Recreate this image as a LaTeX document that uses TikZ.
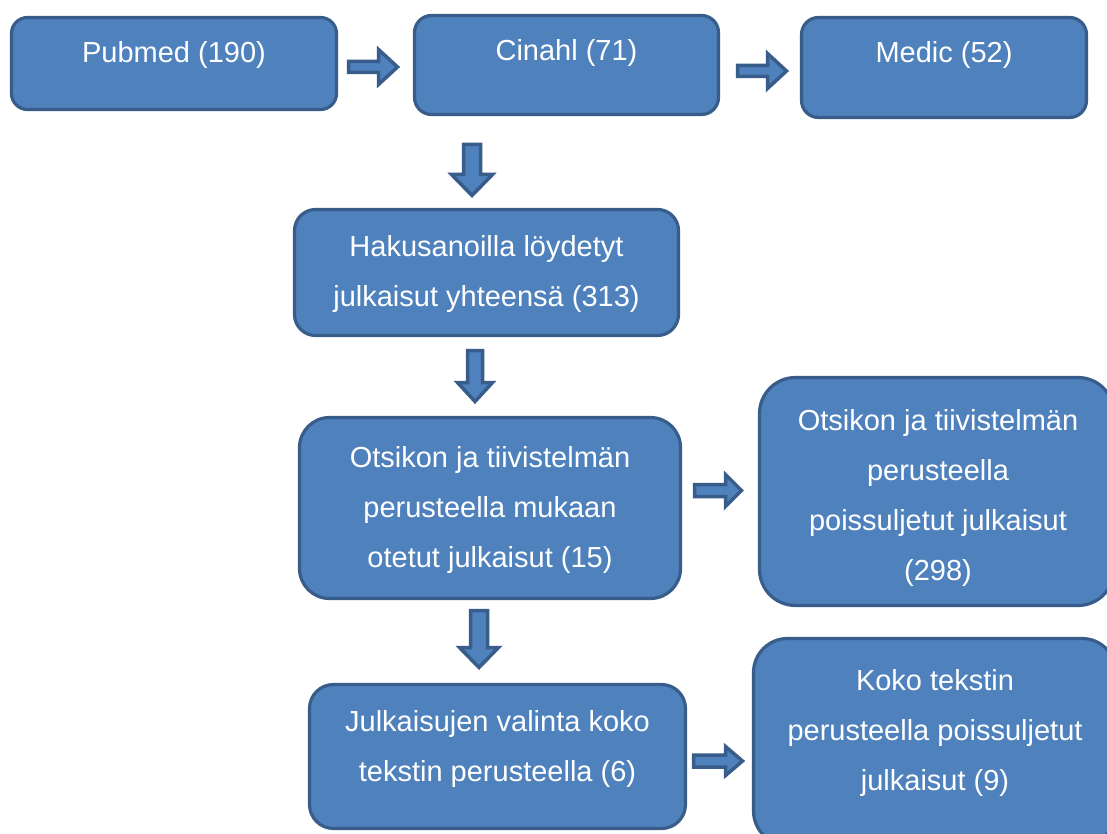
\documentclass[tikz,border=0pt]{standalone}
\usepackage{fontspec}
\setmainfont{Liberation Sans}
\definecolor{boxfill}{HTML}{4F81BD}
\definecolor{boxline}{HTML}{385D8A}
\tikzset{
  box/.style={draw=boxline, fill=boxfill, line width=3.2pt, inner sep=0pt, outer sep=0pt},
  txt/.style={text=white, align=center, inner sep=0pt, anchor=north, font=\fontsize{29}{50}\selectfont},
  barrow/.style={draw=boxline, fill=boxfill, line width=3.5pt, line join=miter},
  pics/blockarrow/.style n args={4}{code={%
    \path[barrow] (0,-#2) -- ({#1-#4},-#2) -- ({#1-#4},-#3) -- (#1,0) -- ({#1-#4},#3) -- ({#1-#4},#2) -- (0,#2) -- cycle;}}
}
\newcommand\placebox[6]{%
  \node[box, rounded corners=#6, minimum width={#4-#2}, minimum height={#5-#3}] (#1) at ({(#2+#4)/2},{(#3+#5)/2}) {};}
\begin{document}
\begin{tikzpicture}[x=1pt,y=-1pt]
\useasboundingbox (0,0) rectangle (1107,834);
\fill[white] (0,0) rectangle (1107,834);
% boxes
\placebox{pub}{11.5}{17.5}{336.5}{109.5}{16}
\placebox{cin}{414.5}{15.5}{718.5}{114.5}{17}
\placebox{med}{801.5}{17.5}{1086.5}{117.5}{17}
\placebox{haku}{294.5}{209.5}{678.5}{335.5}{21}
\placebox{otsm}{299.5}{417.5}{680.5}{598.5}{30}
\placebox{otsr}{759.5}{377.5}{1114}{605.5}{36}
\placebox{julk}{309.5}{684.5}{685.5}{828.5}{24}
\placebox{koko}{753.5}{638.5}{1116}{845}{34}
% texts
\node[txt] (pubt) at (174,40) {\rule{0pt}{22pt}Pubmed (190)};
\node[txt] (cint) at (566.5,38) {\rule{0pt}{22pt}Cinahl (71)};
\node[txt] (medt) at (944,40) {\rule{0pt}{22pt}Medic (52)};
\node[txt] (hakut) at (486.5,234) {\rule{0pt}{22pt}Hakusanoilla löydetyt\\julkaisut yhteensä (313)};
\node[txt] (otsmt) at (490,445) {\rule{0pt}{22pt}Otsikon ja tiivistelmän\\perusteella mukaan\\otetut julkaisut (15)};
\node[txt] (otsrt) at (938,408) {\rule{0pt}{22pt}Otsikon ja tiivistelmän\\perusteella\\poissuljetut julkaisut\\(298)};
\node[txt] (julkt) at (497.5,709) {\rule{0pt}{22pt}Julkaisujen valinta koko\\tekstin perusteella (6)};
\node[txt] (kokot) at (935,668) {\rule{0pt}{22pt}Koko tekstin\\perusteella poissuljetut\\julkaisut (9)};
% block arrows
\pic (a1) at (348.5,67) {blockarrow={49}{5.5}{17.5}{19}};
\pic (a2) at (737.5,71) {blockarrow={49}{5.5}{17.5}{19}};
\pic (a3) at (694.5,490.5) {blockarrow={47}{6}{16}{16}};
\pic (a4) at (693.5,761) {blockarrow={49}{6}{14.5}{17}};
\pic[rotate=-90] (d1) at (472,144.5) {blockarrow={51}{8.5}{20.5}{21}};
\pic[rotate=-90] (d2) at (475,350.5) {blockarrow={51}{7.5}{17.5}{19}};
\pic[rotate=-90] (d3) at (479,610.5) {blockarrow={57}{8.5}{19.5}{20}};
\end{tikzpicture}
\end{document}
